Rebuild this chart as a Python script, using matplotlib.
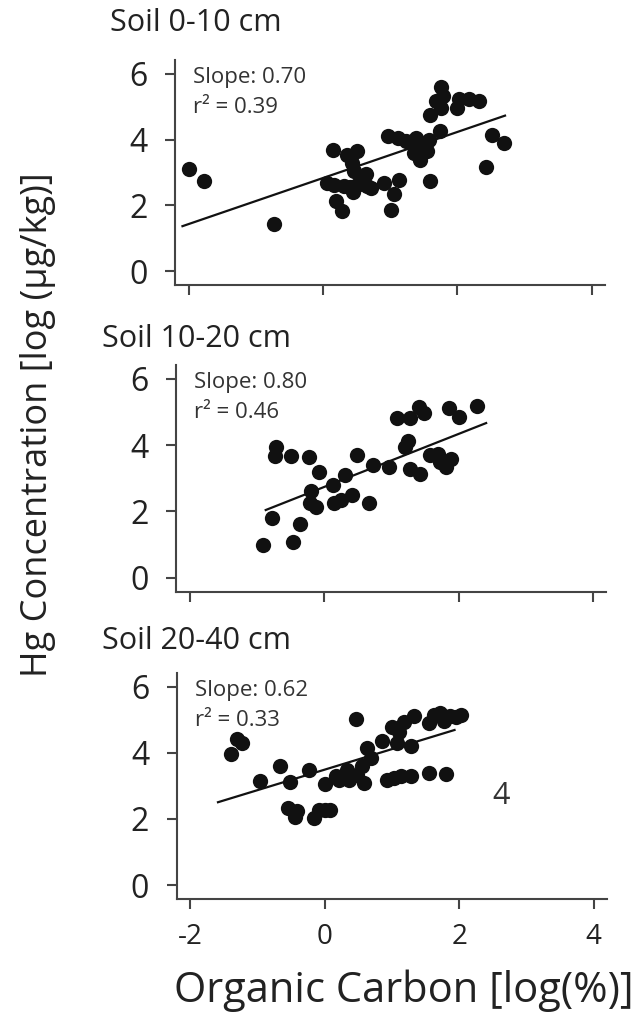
import matplotlib.pyplot as plt

plt.rcParams['font.family'] = ['Open Sans', 'DejaVu Sans']
plt.rcParams['axes.unicode_minus'] = False

# Soil 0-10 cm
x_0_10 = [-2.00, -1.77, -0.73, 0.15, 0.06, 0.16, 0.20, 0.29, 0.36, 0.51, 0.44, 0.46,
          0.31, 0.45, 0.51, 0.64, 0.66, 0.71, 0.91, 1.06, 1.01, 1.13, 0.97, 1.11,
          1.23, 1.38, 1.35, 1.45, 1.50, 1.58, 1.60, 1.68, 1.76, 1.78, 1.75, 1.74,
          1.59, 1.99, 2.02, 2.17, 2.33, 2.43, 2.51, 2.69, 1.42, 1.55, 0.40, 0.58]
y_0_10 = [3.09, 2.75, 1.44, 3.67, 2.68, 2.63, 2.13, 1.84, 3.54, 3.66, 3.29, 3.04,
          2.58, 2.40, 2.63, 2.94, 2.58, 2.53, 2.68, 2.33, 1.87, 2.78, 4.12, 4.05,
          3.95, 4.05, 3.59, 3.39, 3.80, 4.00, 4.76, 5.16, 5.60, 5.31, 4.96, 4.25,
          2.73, 4.96, 5.24, 5.24, 5.18, 3.16, 4.13, 3.90, 3.75, 3.65, 2.55, 2.70]

# Soil 10-20 cm
x_10_20 = [-0.91, -0.77, -0.46, -0.36, -0.71, -0.73, -0.49, -0.22, -0.07, -0.19,
           -0.21, -0.12, 0.13, 0.31, 0.15, 0.25, 0.41, 0.49, 0.66, 0.73, 0.97, 1.08,
           1.28, 1.20, 1.24, 1.28, 1.42, 1.41, 1.49, 1.58, 1.69, 1.73, 1.81, 1.89,
           1.86, 2.01, 2.27]
y_10_20 = [0.98, 1.80, 1.09, 1.62, 3.96, 3.68, 3.66, 3.64, 3.20, 2.63, 2.27, 2.12,
           2.80, 3.10, 2.27, 2.35, 2.50, 3.71, 2.27, 3.40, 3.33, 4.83, 4.81, 3.96,
           4.14, 3.27, 3.13, 5.15, 4.98, 3.71, 3.73, 3.50, 3.35, 3.58, 5.12, 4.84, 5.19]

# Soil 20-40 cm
x_20_40 = [-1.39, -1.30, -1.24, -0.96, -0.67, -0.52, -0.55, -0.42, -0.45, -0.24,
           -0.16, -0.09, 0.00, 0.07, 0.00, 0.16, 0.21, 0.33, 0.36, 0.47, 0.48, 0.58,
           0.56, 0.63, 0.69, 0.85, 0.93, 1.00, 1.10, 1.13, 1.07, 1.18, 1.28, 1.28,
           1.32, 1.55, 1.80, 1.55, 1.62, 1.72, 1.77, 1.87, 2.02, 1.95, 1.03]
y_20_40 = [3.97, 4.41, 4.29, 3.16, 3.61, 3.11, 2.33, 2.25, 2.05, 3.49, 2.03, 2.26,
           2.28, 2.28, 3.04, 3.29, 3.19, 3.49, 3.19, 5.02, 3.34, 3.09, 3.59, 4.14,
           3.84, 4.34, 3.19, 4.77, 4.64, 3.29, 4.29, 4.94, 4.19, 3.29, 5.10, 3.39,
           3.37, 4.89, 5.15, 5.20, 4.95, 5.10, 5.13, 5.08, 3.24]

titles = ['Soil 0-10 cm', 'Soil 10-20 cm', 'Soil 20-40 cm']
slopes = [0.70, 0.80, 0.62]
intercepts = [2.83, 2.74, 3.49]
r2_values = [0.39, 0.46, 0.33]
fit_ranges = [(-2.09, 2.71), (-0.87, 2.41), (-1.59, 1.93)]

xs = [x_0_10, x_10_20, x_20_40]
ys = [y_0_10, y_10_20, y_20_40]

fig = plt.figure(figsize=(6.39, 10.21), dpi=100)

boxes = [(0.274, 0.7209, 0.673, 0.2204),
         (0.276, 0.4205, 0.673, 0.2220),
         (0.277, 0.1195, 0.673, 0.2217)]
title_pos = [(110, 23), (102, 339), (102, 641)]

for i in range(3):
    ax = fig.add_axes(boxes[i])
    ax.plot(xs[i], ys[i], 'o', color='#111111', markersize=11, markeredgewidth=0)
    x0, x1 = fit_ranges[i]
    ax.plot([x0, x1], [intercepts[i] + slopes[i] * x0, intercepts[i] + slopes[i] * x1],
            color='#111111', linewidth=1.6)

    ax.set_xlim(-2.2, 4.2)
    ax.set_ylim(-0.42, 6.42)
    ax.set_xticks([-2, 0, 2, 4])
    ax.set_yticks([0, 2, 4, 6])
    for side in ['top', 'right']:
        ax.spines[side].set_visible(False)
    for side in ['left', 'bottom']:
        ax.spines[side].set_color('#444444')
        ax.spines[side].set_linewidth(1.5)
    ax.tick_params(colors='#444444', width=1.5, length=7, labelcolor='#222222')
    ax.tick_params(axis='y', labelsize=23, pad=13)
    ax.tick_params(axis='x', labelsize=20, pad=10)
    if i < 2:
        ax.tick_params(axis='x', labelbottom=False)

    ax.text(0.042, 0.898, f'Slope: {slopes[i]:.2f}', transform=ax.transAxes,
            fontsize=16, color='#333333', va='baseline')
    ax.text(0.042, 0.764, f'r² = {r2_values[i]:.2f}', transform=ax.transAxes,
            fontsize=16, color='#333333', va='baseline')

    tx, ty = title_pos[i]
    fig.text(tx / 639, 1 - ty / 1021, titles[i], fontsize=22, color='#222222',
             ha='left', va='center')

    if i == 2:
        ax.text(2.62, 2.68, '4', fontsize=22, color='#333333', ha='center', va='center')

fig.text(0.059, 0.584, 'Hg Concentration [log (µg/kg)]', rotation=90,
         fontsize=26, color='#222222', ha='center', va='center')
fig.text(0.632, 0.030, 'Organic Carbon [log(%)]', fontsize=30,
         color='#222222', ha='center', va='center')

fig.savefig('out.png', dpi=100)
